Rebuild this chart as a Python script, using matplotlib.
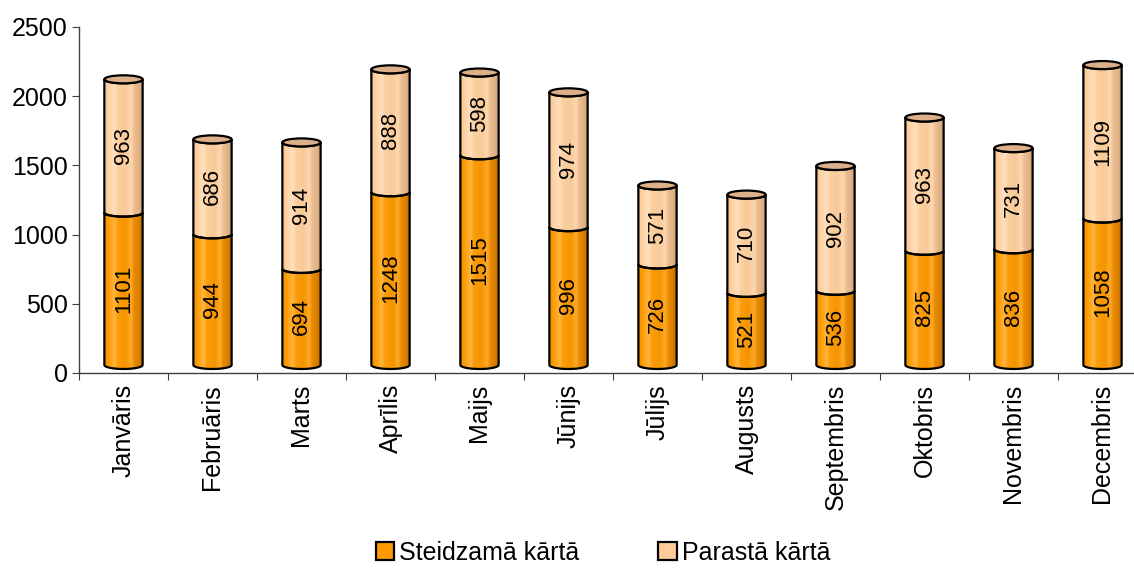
import matplotlib
matplotlib.use('Agg')
import matplotlib.pyplot as plt
import numpy as np
from matplotlib.patches import Ellipse, PathPatch, Patch
from matplotlib.path import Path
from matplotlib.colors import LinearSegmentedColormap

months = ['Janvāris', 'Februāris', 'Marts', 'Aprīlis', 'Maijs', 'Jūnijs',
          'Jūlijs', 'Augusts', 'Septembris', 'Oktobris', 'Novembris', 'Decembris']
steidzama = [1101, 944, 694, 1248, 1515, 996, 726, 521, 536, 825, 836, 1058]
parasta = [963, 686, 914, 888, 598, 974, 571, 710, 902, 963, 731, 1109]
series_names = ['Steidzamā kārtā', 'Parastā kārtā']
yticks = [0, 500, 1000, 1500, 2000, 2500]

plt.rcParams['font.family'] = ['Liberation Sans', 'DejaVu Sans']

W, H = 1134, 568
fig = plt.figure(figsize=(W / 100, H / 100), dpi=100)
ax = fig.add_axes([79 / W, 1 - 373 / H, 1068 / W, 346 / H])
ax.set_xlim(-0.5, 11.5)
ax.set_ylim(0, 2500)

orange = '#FF9900'
peach = '#FFCC99'
cmap_or = LinearSegmentedColormap.from_list('or', [
    (0.0, '#EE8C00'), (0.12, '#FF9E05'), (0.28, '#FFB53F'), (0.36, '#FB9C08'),
    (0.55, '#F59400'), (0.7, '#FFA928'), (0.78, '#E88900'), (0.9, '#D97F00'), (1.0, '#BD6E00')])
cmap_pe = LinearSegmentedColormap.from_list('pe', [
    (0.0, '#F4C493'), (0.12, '#FFD2A4'), (0.28, '#FFE0BE'), (0.36, '#FCCF9F'),
    (0.55, '#F7CA9A'), (0.7, '#FFD7AE'), (0.78, '#EBBD90'), (0.9, '#E0B287'), (1.0, '#CFA077')])

x = np.arange(len(months))
width = 0.43
b = 29.0      # ellipse semi-minor axis in data units
off = 29.0    # front arc lowest point above value level

bars1 = ax.bar(x, steidzama, width=width, color=orange, edgecolor='none', alpha=0)
bars2 = ax.bar(x, parasta, bottom=steidzama, width=width, color=peach, edgecolor='none', alpha=0)

def front_body(xl, xr, y0, y1):
    cx = (xl + xr) / 2
    a = (xr - xl) / 2
    t = np.linspace(np.pi, 2 * np.pi, 60)
    lower = np.column_stack([cx + a * np.cos(t), y0 + off + b + b * np.sin(t)])
    t2 = np.linspace(2 * np.pi, np.pi, 60)
    upper = np.column_stack([cx + a * np.cos(t2), y1 + off + b + b * np.sin(t2)])
    verts = np.vstack([lower, upper, lower[:1]])
    codes = [Path.MOVETO] + [Path.LINETO] * (len(verts) - 2) + [Path.CLOSEPOLY]
    return Path(verts, codes)

grad = np.linspace(0, 1, 256).reshape(1, -1)
for barset, cmap in ((bars1, cmap_or), (bars2, cmap_pe)):
    for r in barset:
        xl = r.get_x()
        xr = xl + r.get_width()
        y0 = r.get_y()
        y1 = y0 + r.get_height()
        path = front_body(xl, xr, y0, y1)
        pp = PathPatch(path, facecolor='none', edgecolor='black', lw=1.6, zorder=4)
        ax.add_patch(pp)
        im = ax.imshow(grad, cmap=cmap, aspect='auto', extent=(xl, xr, y0 - b, y1 + off + 2 * b),
                       zorder=3, interpolation='bilinear')
        im.set_clip_path(PathPatch(path, transform=ax.transData))

for r in bars2:
    xl = r.get_x()
    cx = xl + r.get_width() / 2
    top = r.get_y() + r.get_height()
    ax.add_patch(Ellipse((cx, top + off + b), r.get_width(), 2 * b,
                         facecolor='#DDB089', edgecolor='black', lw=1.6, zorder=5))

for i in range(len(months)):
    ax.text(x[i], steidzama[i] / 2 + off + b, str(steidzama[i]), rotation=90,
            ha='center', va='center', fontsize=16, zorder=6)
    ax.text(x[i], steidzama[i] + parasta[i] / 2 + off + b, str(parasta[i]), rotation=90,
            ha='center', va='center', fontsize=16, zorder=6)

ax.set_xlim(-0.5, 11.5)
ax.set_ylim(0, 2500)
ax.set_yticks(yticks)
ax.set_yticklabels([str(v) for v in yticks], fontsize=18)
ax.set_xticks(np.arange(-0.5, 11.5, 1.0))
ax.set_xticklabels([])
ax.set_xticks(x, minor=True)
ax.set_xticklabels(months, minor=True, rotation=90, fontsize=18)
ax.tick_params(axis='x', which='minor', length=0, pad=8)
ax.tick_params(axis='x', which='major', length=5, direction='out', color='#404040')
ax.tick_params(axis='y', length=5, direction='out', color='#404040', pad=3)
for s in ('top', 'right'):
    ax.spines[s].set_visible(False)
for s in ('left', 'bottom'):
    ax.spines[s].set_color('#404040')
    ax.spines[s].set_linewidth(1.0)

handles = [Patch(facecolor=orange, edgecolor='black', lw=1.6, label=series_names[0]),
           Patch(facecolor=peach, edgecolor='black', lw=1.6, label=series_names[1])]
fig.legend(handles=handles, loc='center', bbox_to_anchor=(603 / W, 1 - 553 / H), ncol=2,
           frameon=False, fontsize=18, handlelength=0.75, handleheight=0.75,
           handletextpad=0.2, columnspacing=3.15)

fig.savefig('out.png', dpi=100)
